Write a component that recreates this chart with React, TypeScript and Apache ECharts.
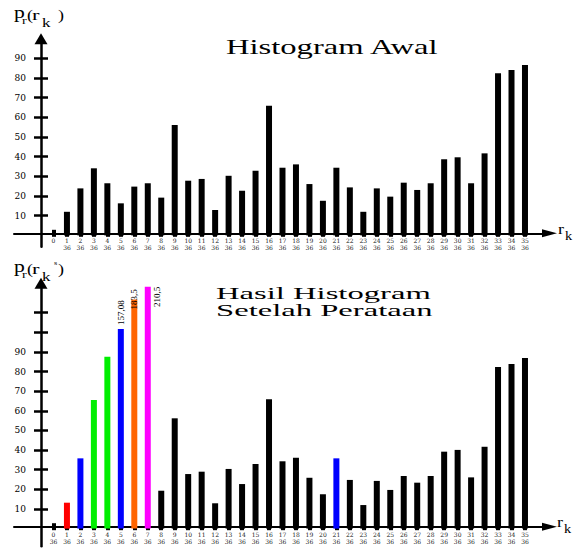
import React, { useEffect, useRef } from 'react';
import * as echarts from 'echarts';

// ---------- data ----------
const categories = [0, 1, 2, 3, 4, 5, 6, 7, 8, 9, 10, 11, 12, 13, 14, 15, 16, 17, 18, 19, 20, 21, 22, 23, 24, 25, 26, 27, 28, 29, 30, 31, 32, 33, 34, 35];
const denominator = '36';
const histogramAwal = [0, 12.0, 23.9, 34.1, 26.5, 16.3, 24.8, 26.5, 19.2, 56.1, 27.8, 28.7, 12.9, 30.3, 22.7, 32.9, 65.9, 34.4, 36.1, 26.1, 17.6, 34.4, 24.4, 12.0, 23.9, 19.7, 26.8, 23.1, 26.5, 38.7, 39.7, 26.5, 41.7, 82.4, 84.1, 86.6];
const histogramHasil = [0, 13.2, 35.8, 65.5, 87.6, 101.7, 116.8, 123.3, 19.3, 56.2, 27.8, 29.0, 12.9, 30.4, 22.7, 32.9, 65.9, 34.3, 36.1, 25.9, 17.5, 35.8, 24.8, 12.0, 24.3, 19.7, 26.8, 23.4, 26.8, 39.2, 40.1, 26.1, 41.7, 82.3, 83.9, 86.9];
const hasilColors = ['#000000', '#ff0000', '#0000ff', '#00ee00', '#00ee00', '#0000ff', '#ff6600', '#ff00ff', '#000000', '#000000', '#000000', '#000000', '#000000', '#000000', '#000000', '#000000', '#000000', '#000000', '#000000', '#000000', '#000000', '#0000ff', '#000000', '#000000', '#000000', '#000000', '#000000', '#000000', '#000000', '#000000', '#000000', '#000000', '#000000', '#000000', '#000000', '#000000'];
const labeledCats = [5, 6, 7];
const labeledTexts = ['157,08', '183,5', '210,5'];
const yLabelValues = [10, 20, 30, 40, 50, 60, 70, 80, 90];
const yTicksTop = [10, 20, 30, 40, 50, 60, 70, 80, 90];
const yTicksBottom = [10, 20, 30, 40, 50, 60, 70, 80, 90, 100, 110];
const titleTop = 'Histogram Awal';
const titleBottom1 = 'Hasil Histogram';
const titleBottom2 = 'Setelah Perataan';

// ---------- layout ----------
const serif = '"Liberation Serif", "Times New Roman", serif';
const wide = '"DejaVu Serif", serif';
const X_MIN = -2.93;
const X_MAX = 36.82;

function mainX(gridIndex: number, offset: number, zeroPlain: boolean) {
  return {
    type: 'value', gridIndex, min: X_MIN, max: X_MAX, position: 'bottom', offset,
    splitLine: { show: false },
    axisLine: { show: true, onZero: false, symbol: ['none', 'triangle'], symbolSize: [8, 15], lineStyle: { color: '#000', width: 2 } },
    axisTick: { show: true, customValues: categories, length: 3.5, lineStyle: { color: '#000', width: 4 } },
    axisLabel: {
      show: true, customValues: categories, margin: 4, fontSize: 6, lineHeight: 7, fontFamily: wide, color: '#222',
      formatter: (v: number) => {
        const k = Math.round(v);
        if (zeroPlain && k === 0) return '0';
        return `${k}\n${denominator}`;
      },
    },
  };
}
function innerX(gridIndex: number, offset: number) {
  return {
    type: 'value', gridIndex, min: X_MIN, max: X_MAX, position: 'bottom', offset,
    splitLine: { show: false },
    axisLine: { show: false, onZero: false },
    axisTick: { show: true, inside: true, customValues: categories, length: 3.5, lineStyle: { color: '#000', width: 4 } },
    axisLabel: { show: false },
  };
}
function mainY(gridIndex: number, min: number, max: number, ticks: number[]) {
  return {
    type: 'value', gridIndex, min, max, position: 'left', offset: -27,
    splitLine: { show: false },
    axisLine: { show: true, onZero: false, symbol: ['none', 'triangle'], symbolSize: [13, 11], lineStyle: { color: '#000', width: 2.5 } },
    axisTick: { show: true, customValues: ticks, length: 7, lineStyle: { color: '#000', width: 2.5 } },
    axisLabel: { show: true, customValues: yLabelValues, margin: 15, fontSize: 9, fontFamily: wide, color: '#000' },
  };
}
function innerY(gridIndex: number, min: number, max: number, ticks: number[]) {
  return {
    type: 'value', gridIndex, min, max, position: 'left', offset: -27,
    splitLine: { show: false },
    axisLine: { show: false, onZero: false },
    axisTick: { show: true, inside: true, customValues: ticks, length: 7, lineStyle: { color: '#000', width: 2.5 } },
    axisLabel: { show: false },
  };
}

function txt(text: string, x: number, y: number, size: number, scaleX = 1) {
  return {
    type: 'text', x, y, scaleX, silent: true,
    style: { text, fill: '#000', fontSize: size, fontFamily: serif, verticalAlign: 'middle', align: 'left' },
  };
}
function yName(dy: number, sup: boolean) {
  const parts: any[] = [
    txt('p', 14, 13 + dy, 16, 1.35),
    txt('r', 22, 21 + dy, 11, 1.3),
    txt('(', 27, 15 + dy, 15, 1.2),
    txt('r', 32, 15 + dy, 15, 1.5),
    txt('k', 42, 22.5 + dy, 13, 1.3),
    txt(')', 58, 15 + dy, 15, 1.2),
  ];
  if (sup) parts.push(txt('s', 54, 263, 7, 1.2));
  return parts;
}

function labelFor(i: number) {
  const idx = labeledCats.indexOf(i);
  if (idx < 0) return undefined;
  const base = { show: true, formatter: labeledTexts[idx], rotate: 90, fontSize: 9, fontFamily: serif, color: '#000' };
  if (idx === 0) return { ...base, position: 'top', distance: 4, align: 'left', verticalAlign: 'middle' };
  if (idx === 1) return { ...base, position: 'top', distance: 0, align: 'center', verticalAlign: 'middle' };
  return { ...base, position: [8, 0], align: 'right', verticalAlign: 'top' };
}

export default function App() {
  const ref = useRef<HTMLDivElement>(null);
  useEffect(() => {
    if (!ref.current) return;
    const chart = echarts.init(ref.current, undefined, { renderer: 'svg' });
    const option: any = {
      animation: false,
      backgroundColor: '#ffffff',
      grid: [
        { left: 14, right: 24.5, top: 38.65, height: 208.05 },
        { left: 14, right: 24.5, top: 283.3, height: 262.96 },
      ],
      xAxis: [mainX(0, -13.4, true), innerX(0, -13.4), mainX(1, -19.56, false), innerX(1, -19.56)],
      yAxis: [
        mainY(0, -5.74, 100, yTicksTop), innerY(0, -5.74, 100, yTicksTop),
        mainY(1, -9, 125, yTicksBottom), innerY(1, -9, 125, yTicksBottom),
      ],
      series: [
        {
          type: 'bar', xAxisIndex: 0, yAxisIndex: 0, barWidth: 6,
          itemStyle: { color: '#000' },
          data: categories.map((k, i) => [k, histogramAwal[i]]),
        },
        {
          type: 'bar', xAxisIndex: 2, yAxisIndex: 2, barWidth: 6,
          data: categories.map((k, i) => {
            const item: any = { value: [k, histogramHasil[i]], itemStyle: { color: hasilColors[i] } };
            const lab = labelFor(i);
            if (lab) item.label = lab;
            return item;
          }),
        },
      ],
      graphic: [
        txt(titleTop, 226, 47, 20, 1.63),
        txt(titleBottom1, 216, 293, 17, 1.92),
        txt(titleBottom2, 216, 310, 17, 1.92),
        ...yName(0, false),
        ...yName(254, true),
        txt('r', 558, 229, 15, 1.2),
        txt('k', 565, 236, 12, 1.2),
        txt('r', 557, 522, 15, 1.2),
        txt('k', 564, 529, 12, 1.2),
      ],
    };
    chart.setOption(option);
    return () => chart.dispose();
  }, []);
  return <div ref={ref} style={{ position: 'fixed', left: 0, top: 0, width: 574, height: 548 }} />;
}
